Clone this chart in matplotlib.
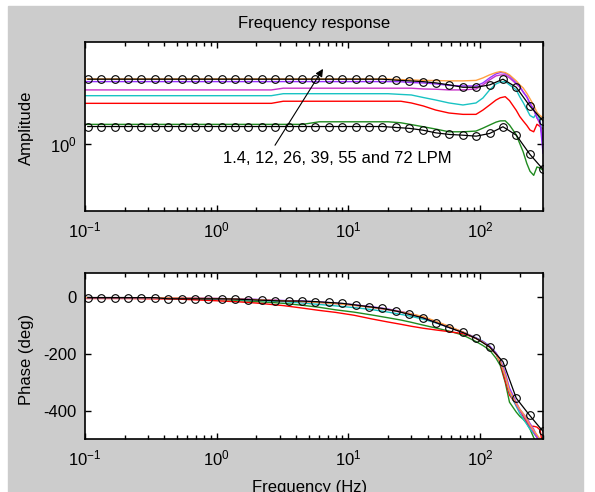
#!/usr/bin/env python3
import matplotlib
matplotlib.use('Agg')
from matplotlib import pyplot as plt
from matplotlib.patches import Rectangle
from matplotlib.ticker import NullLocator, FixedLocator

plt.rcParams['font.family'] = ['Liberation Sans', 'DejaVu Sans']
plt.rcParams['font.size'] = 12
plt.rcParams['mathtext.fontset'] = 'custom'
plt.rcParams['mathtext.rm'] = 'Liberation Sans'
plt.rcParams['mathtext.it'] = 'Liberation Sans:italic'
plt.rcParams['mathtext.bf'] = 'Liberation Sans:bold'
plt.rcParams['axes.unicode_minus'] = False

# measured frequencies (Hz) for the six flow rates
meas_freq = [0.1, 0.2, 0.5, 1, 1.5, 2, 2.6, 3.2, 4.5, 6, 8, 11, 15, 20, 25, 30, 37, 46,
             58, 74, 93, 105, 118, 132, 142, 155, 167, 188, 200, 212, 226, 239, 255,
             270, 285, 300]

# model (black circles) frequencies
fit_freq = [0.105, 0.133, 0.168, 0.212, 0.268, 0.339, 0.428, 0.541, 0.684, 0.864,
            1.09, 1.38, 1.74, 2.2, 2.79, 3.52, 4.45, 5.62, 7.1, 8.98, 11.35, 14.3,
            18.1, 22.9, 29.0, 36.6, 46.2, 58.4, 73.9, 93.3, 118, 149, 188, 238, 300]

flow_labels = ['1.4', '12', '26', '39', '55', '72']
flow_colors = ['#208b20', '#ff0000', '#19c3c3', '#c832c8', '#9933ff', '#ffa040']

amp_green = [1.159, 1.159, 1.159, 1.159, 1.159, 1.159, 1.159, 1.159, 1.159, 1.182,
             1.182, 1.182, 1.182, 1.182, 1.173, 1.157, 1.138, 1.118, 1.095, 1.095,
             1.101, 1.126, 1.153, 1.179, 1.19, 1.191, 1.153, 1.07, 1.0, 0.94,
             0.86, 0.81, 0.785, 0.837, 0.83, 0.816]
amp_red = [1.361, 1.361, 1.361, 1.361, 1.361, 1.361, 1.361, 1.383, 1.383, 1.383,
           1.383, 1.383, 1.383, 1.383, 1.383, 1.365, 1.334, 1.293, 1.264, 1.251,
           1.251, 1.293, 1.344, 1.396, 1.42, 1.432, 1.39, 1.29, 1.23, 1.19,
           1.15, 1.11, 1.095, 1.16, 1.14, 1.12]
amp_cyan = [1.443, 1.443, 1.443, 1.443, 1.443, 1.443, 1.443, 1.465, 1.465, 1.465,
            1.465, 1.465, 1.465, 1.465, 1.457, 1.451, 1.423, 1.396, 1.365, 1.344,
            1.365, 1.418, 1.508, 1.579, 1.60, 1.607, 1.567, 1.508, 1.43, 1.37,
            1.30, 1.24, 1.22, 1.27, 1.19, 1.03]
amp_magenta = [1.508, 1.508, 1.508, 1.508, 1.508, 1.508, 1.508, 1.528, 1.528, 1.528,
               1.528, 1.528, 1.528, 1.528, 1.528, 1.528, 1.519, 1.516, 1.508, 1.508,
               1.519, 1.567, 1.628, 1.679, 1.69, 1.692, 1.653, 1.579, 1.54, 1.485,
               1.43, 1.36, 1.30, 1.22, 1.16, 1.03]
amp_purple = [1.607, 1.607, 1.607, 1.607, 1.607, 1.607, 1.607, 1.607, 1.607, 1.607,
              1.607, 1.607, 1.607, 1.607, 1.605, 1.595, 1.591, 1.579, 1.561, 1.555,
              1.555, 1.591, 1.653, 1.705, 1.722, 1.715, 1.679, 1.591, 1.55, 1.485,
              1.43, 1.361, 1.30, 1.216, 1.18, 0.93]
amp_orange = [1.64, 1.64, 1.64, 1.64, 1.64, 1.64, 1.64, 1.64, 1.64, 1.64,
              1.64, 1.64, 1.64, 1.64, 1.632, 1.628, 1.622, 1.62, 1.616, 1.616,
              1.622, 1.653, 1.692, 1.722, 1.735, 1.722, 1.692, 1.616, 1.567, 1.531,
              1.47, 1.41, 1.34, 1.27, 1.24, 1.22]

amp_fit_hi = [1.637, 1.637, 1.637, 1.637, 1.637, 1.637, 1.637, 1.637, 1.637, 1.637,
              1.637, 1.637, 1.637, 1.637, 1.637, 1.637, 1.637, 1.637, 1.637, 1.637,
              1.637, 1.637, 1.637, 1.625, 1.616, 1.607, 1.591, 1.567, 1.539, 1.539,
              1.567, 1.637, 1.539, 1.334, 1.191]
amp_fit_lo = [1.14, 1.14, 1.14, 1.14, 1.14, 1.14, 1.14, 1.14, 1.14, 1.14,
              1.14, 1.14, 1.14, 1.14, 1.14, 1.14, 1.14, 1.14, 1.14, 1.14,
              1.14, 1.14, 1.14, 1.132, 1.124, 1.109, 1.086, 1.073, 1.067, 1.059,
              1.081, 1.138, 1.067, 0.923, 0.822]

ph_green = [-1, -1, -3, -7, -11, -15, -18, -21, -28, -35, -44, -52, -62, -72, -80, -88,
            -98, -108, -119, -133, -156, -170, -186, -215, -240, -300, -370, -405,
            -420, -430, -445, -465, -495, -520, -530, -540]
ph_red = [-4, -4, -6, -12, -16, -20, -25, -29, -38, -46, -53, -63, -76, -87, -95, -102,
          -109, -115, -121, -128, -144, -157, -174, -200, -230, -295, -345, -378,
          -398, -420, -440, -456, -455, -458, -468, -530]
ph_cyan = [-1, -1, -2, -5, -8, -10, -13, -15, -20, -25, -30, -36, -43, -52, -60, -67,
           -77, -90, -106, -123, -143, -155, -172, -198, -225, -280, -335, -385,
           -410, -428, -448, -465, -480, -495, -510, -520]
ph_magenta = [-1, -1, -2, -4, -6, -8, -10, -12, -15, -18, -22, -28, -35, -44, -52, -60,
              -72, -88, -106, -124, -145, -158, -175, -200, -225, -275, -330, -380,
              -400, -415, -435, -455, -475, -495, -515, -530]
ph_purple = [-1, -1, -2, -4, -5, -7, -9, -11, -13, -16, -20, -26, -33, -41, -50, -58,
             -70, -86, -104, -122, -143, -156, -172, -196, -220, -265, -320, -370,
             -395, -410, -425, -445, -465, -490, -510, -530]
ph_orange = [-1, -1, -2, -4, -6, -8, -10, -12, -15, -18, -22, -28, -35, -43, -51, -58,
             -68, -84, -102, -122, -145, -158, -176, -200, -225, -275, -330, -375,
             -395, -410, -430, -450, -470, -485, -500, -515]

ph_fit = [-1, -1, -1, -1, -1, -1, -5, -5, -5, -5, -5, -6, -8, -10, -12, -13, -13, -15,
          -18, -21, -27, -33, -39, -48, -60, -72, -89, -107, -124, -145, -175, -227,
          -356, -417, -473]

W, H = 595, 492


def style_axes(ax):
	for s in ax.spines.values():
		s.set_linewidth(1.2)
	ax.tick_params(which='both', direction='in', top=True, right=True, width=1.0)
	ax.tick_params(which='major', length=4.5)
	ax.tick_params(which='minor', length=3)
	ax.set_xscale('log')
	ax.set_xlim(0.1, 300)
	ax.set_facecolor('white')


def main():
	fig = plt.figure(figsize=(W / 100, H / 100), dpi=100, facecolor='white')
	fig.add_artist(Rectangle((8 / W, 0), (583 - 8) / W, (H - 6) / H,
	                         transform=fig.transFigure, color='#cccccc', zorder=-10))

	amps = [amp_green, amp_red, amp_cyan, amp_magenta, amp_purple, amp_orange]
	phases = [ph_green, ph_red, ph_cyan, ph_magenta, ph_purple, ph_orange]

	# amplitude
	ax1 = fig.add_axes([85 / W, 1 - 210.5 / H, 458 / W, 168.8 / H])
	style_axes(ax1)
	ax1.set_yscale('log')
	for amp, c in zip(amps, flow_colors):
		ax1.plot(meas_freq, amp, color=c, lw=1.0)
	for amp_fit in [amp_fit_hi, amp_fit_lo]:
		ax1.plot(fit_freq, amp_fit, color='k', lw=0.9, marker='o', ms=5.5,
		         mfc='none', mec='k', mew=0.8)
	ax1.set_ylim(0.6, 2.18)
	ax1.yaxis.set_minor_locator(NullLocator())
	ax1.tick_params(axis='x', pad=7)
	ax1.tick_params(axis='y', pad=6)
	ax1.set_title('Frequency response', fontsize=12, pad=10)
	ax1.set_ylabel('Amplitude')
	ax1.yaxis.set_label_coords(-0.112, 0.49)
	ax1.annotate('', xy=(6.41, 1.771), xytext=(2.77, 0.988),
	             arrowprops=dict(arrowstyle='-|>', color='k', lw=0.8,
	                             mutation_scale=11, shrinkA=0, shrinkB=0))
	ax1.text(1.11, 0.861, ', '.join(flow_labels[:-1]) + ' and ' + flow_labels[-1] + ' LPM',
	         ha='left', va='baseline', fontsize=12)

	# phase
	ax2 = fig.add_axes([85 / W, 1 - 439 / H, 458 / W, 165.7 / H])
	style_axes(ax2)
	for ph, c in zip(phases, flow_colors):
		ax2.plot(meas_freq, ph, color=c, lw=1.0)
	ax2.plot(fit_freq, ph_fit, color='k', lw=0.9, marker='o', ms=5.5,
	         mfc='none', mec='k', mew=0.8)
	ax2.set_ylim(-500, 85)
	ax2.yaxis.set_major_locator(FixedLocator([-400, -200, 0]))
	ax2.tick_params(axis='x', pad=7)
	ax2.tick_params(axis='y', pad=6)
	ax2.set_ylabel('Phase (deg)')
	ax2.yaxis.set_label_coords(-0.112, 0.48)
	ax2.set_xlabel('Frequency (Hz)')
	ax2.xaxis.set_label_coords(0.49, -0.245)

	fig.savefig('out.png', dpi=100, facecolor=fig.get_facecolor())
	plt.close()


if __name__ == '__main__':
	main()
